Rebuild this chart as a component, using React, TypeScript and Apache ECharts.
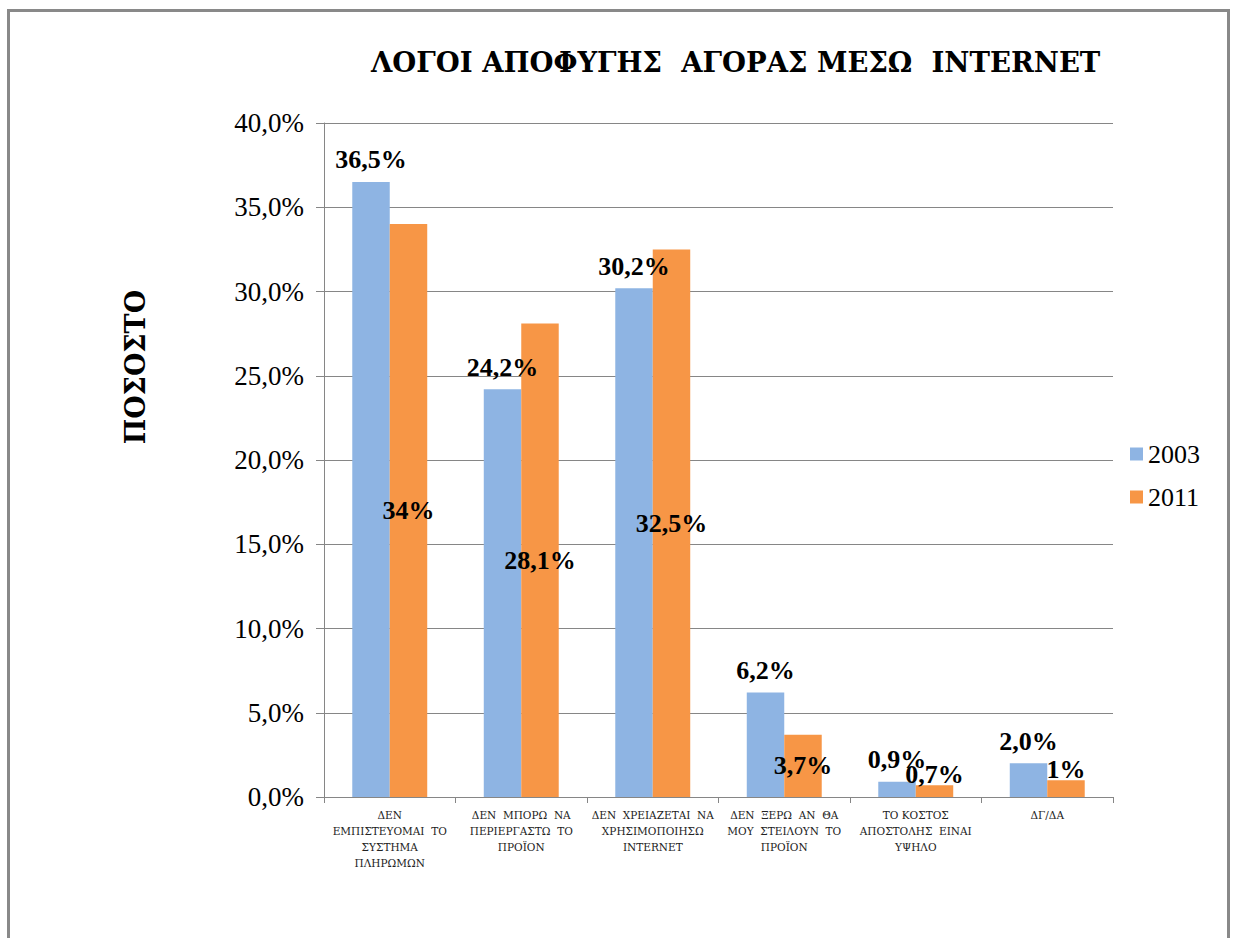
import React, { useEffect, useRef } from "react";
import * as echarts from "echarts";

const categories: string[] = [
  "ΔΕΝ\nΕΜΠΙΣΤΕΥΟΜΑΙ  ΤΟ\nΣΥΣΤΗΜΑ\nΠΛΗΡΩΜΩΝ",
  "ΔΕΝ  ΜΠΟΡΩ  ΝΑ\nΠΕΡΙΕΡΓΑΣΤΩ  ΤΟ\nΠΡΟΪΟΝ",
  "ΔΕΝ  ΧΡΕΙΑΖΕΤΑΙ  ΝΑ\nΧΡΗΣΙΜΟΠΟΙΗΣΩ\nINTERNET",
  "ΔΕΝ  ΞΕΡΩ  ΑΝ  ΘΑ\nΜΟΥ  ΣΤΕΙΛΟΥΝ  ΤΟ\nΠΡΟΪΟΝ",
  "ΤΟ ΚΟΣΤΟΣ\nΑΠΟΣΤΟΛΗΣ  ΕΙΝΑΙ\nΥΨΗΛΟ",
  "ΔΓ/ΔΑ",
];
const seriesNames: string[] = ["2003", "2011"];
const values2003: number[] = [36.5, 24.2, 30.2, 6.2, 0.9, 2.0];
const values2011: number[] = [34, 28.1, 32.5, 3.7, 0.7, 1];
const yTicks: number[] = [0, 5, 10, 15, 20, 25, 30, 35, 40];

const SERIF = "Liberation Serif";
const GREEK = "DejaVu Serif";

const fmtFixed = (v: number) => v.toFixed(1).replace(".", ",") + "%";
const fmtShort = (v: number) =>
  (Number.isInteger(v) ? String(v) : v.toFixed(1).replace(".", ",")) + "%";

export default function App() {
  const ref = useRef<HTMLDivElement>(null);
  useEffect(() => {
    if (!ref.current) return;
    const chart = echarts.init(ref.current, undefined, { renderer: "svg" });
    const labelStyle = {
      fontFamily: SERIF,
      fontWeight: "bold" as const,
      fontSize: 26,
      color: "#000",
    };
    chart.setOption({
      animation: false,
      backgroundColor: "#fff",
      textStyle: { fontFamily: SERIF },
      title: {
        text: "ΛΟΓΟΙ ΑΠΟΦΥΓΗΣ  ΑΓΟΡΑΣ ΜΕΣΩ  INTERNET",
        left: 366,
        top: 43,
        textStyle: {
          fontFamily: GREEK,
          fontWeight: "bold",
          fontSize: 27.5,
          color: "#000",
        },
      },
      legend: {
        orient: "vertical",
        left: 1125,
        top: 436,
        itemWidth: 13,
        itemHeight: 13,
        itemGap: 17,
        icon: "rect",
        data: seriesNames,
        textStyle: { fontFamily: SERIF, fontSize: 26, color: "#000" },
      },
      grid: { left: 324, right: 123, top: 123, bottom: 141, containLabel: false },
      xAxis: {
        type: "category",
        data: categories,
        axisLine: { lineStyle: { color: "#868686", width: 1 } },
        axisTick: { show: true, length: 6, lineStyle: { color: "#868686" } },
        axisLabel: {
          interval: 0,
          margin: 10,
          fontFamily: GREEK,
          fontSize: 10.5,
          lineHeight: 16,
          color: "#222",
          align: "center",
        },
      },
      yAxis: {
        type: "value",
        min: 0,
        max: yTicks[yTicks.length - 1],
        interval: yTicks[1] - yTicks[0],
        axisLine: { show: true, lineStyle: { color: "#868686", width: 1 } },
        axisTick: { show: true, length: 8, inside: false, lineStyle: { color: "#868686" } },
        splitLine: { lineStyle: { color: "#868686", width: 1 } },
        axisLabel: {
          margin: 20,
          fontFamily: SERIF,
          fontSize: 27,
          color: "#000",
          formatter: (v: number) => fmtFixed(v),
        },
      },
      graphic: [
        {
          type: "rect",
          shape: { x: 8.5, y: 10.5, width: 1220, height: 1000 },
          style: { fill: "none", stroke: "#898989", lineWidth: 3 },
          silent: true,
        },
        {
          type: "text",
          x: 135,
          y: 367,
          rotation: Math.PI / 2,
          style: {
            text: "ΠΟΣΟΣΤΟ",
            fontFamily: GREEK,
            fontWeight: "bold",
            fontSize: 27,
            fill: "#000",
            align: "center",
            verticalAlign: "middle",
          },
        },
      ],
      series: [
        {
          name: seriesNames[0],
          type: "bar",
          barGap: "0%",
          barCategoryGap: "43%",
          itemStyle: { color: "#8EB4E3" },
          data: values2003,
          label: {
            show: true,
            position: "top",
            distance: 9,
            ...labelStyle,
            formatter: (p: any) => fmtFixed(p.value),
          },
        },
        {
          name: seriesNames[1],
          type: "bar",
          barGap: "0%",
          barCategoryGap: "43%",
          itemStyle: { color: "#F79646" },
          data: values2011.map((v) => ({
            value: v,
            label:
              v > 2
                ? { position: "inside" }
                : { position: "top", distance: -2 },
          })),
          label: {
            show: true,
            ...labelStyle,
            formatter: (p: any) => fmtShort(p.value),
          },
        },
      ],
    });
    return () => chart.dispose();
  }, []);
  return (
    <div
      ref={ref}
      style={{ position: "fixed", left: 0, top: 0, width: 1236, height: 938 }}
    />
  );
}
